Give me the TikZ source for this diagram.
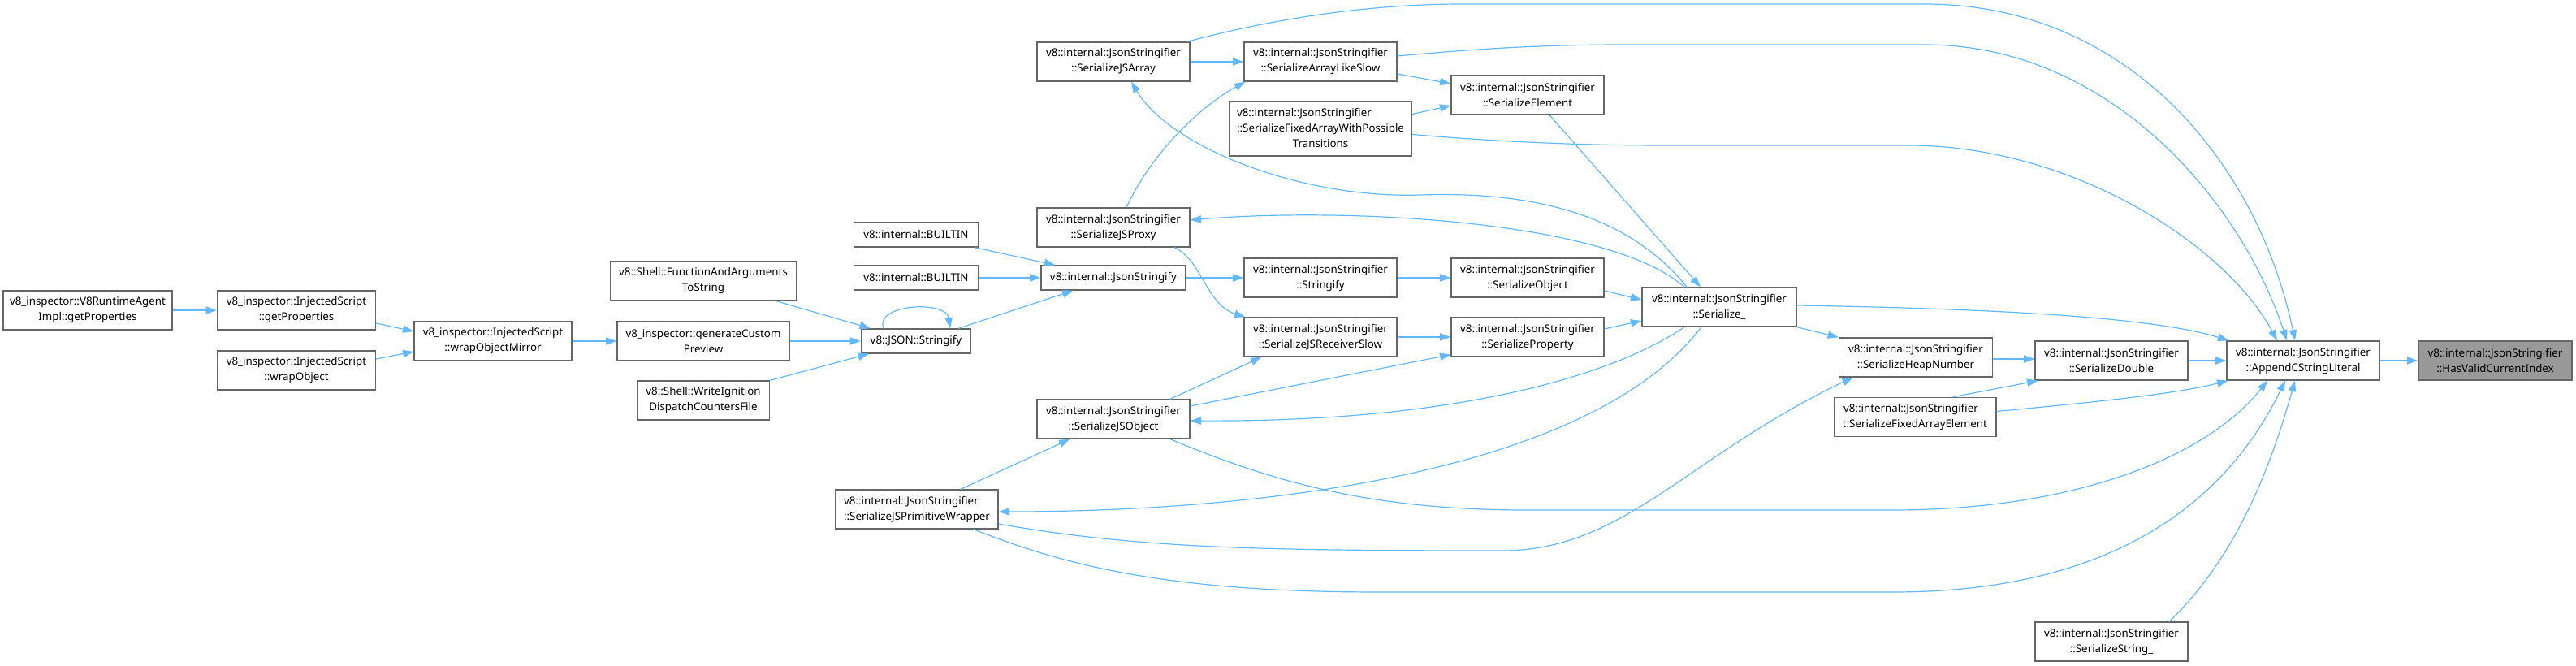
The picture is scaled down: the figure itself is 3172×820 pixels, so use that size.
\documentclass[tikz,border=0pt]{standalone}
\usepackage{fontspec}
\setmainfont{Noto Sans}
\usetikzlibrary{arrows.meta,calc}
\definecolor{edgeblue}{HTML}{63B8FF}
\definecolor{boxgray}{HTML}{666666}
\definecolor{rootfill}{HTML}{999999}
\tikzset{
  fn/.style={draw=boxgray, line width=1pt, fill=white, inner sep=0pt, align=center,
    font=\fontsize{10}{14.25}\selectfont, minimum height=36pt, minimum width=141pt},
  fnl/.style={fn, align=left},
  onel/.style={fn, minimum height=22.5pt},
  root/.style={fn, fill=rootfill},
  e/.style={draw=edgeblue, line width=0.9pt, -{Triangle[length=10pt,width=7pt]}},
}
\begin{document}
\begin{tikzpicture}[x=0.75pt, y=-0.75pt]
\useasboundingbox (0,0) rectangle (3172,820);
% nodes
\node[fn, minimum width=156pt] (rai) at (108,382) {v8\_inspector::V8RuntimeAgent\\Impl::getProperties};
\node[fn, minimum width=146.25pt] (isgp) at (365,382) {v8\_inspector::InjectedScript\\::getProperties};
\node[fn, minimum width=146.25pt] (iswo) at (365,456) {v8\_inspector::InjectedScript\\::wrapObject};
\node[fn, minimum width=145.5pt] (wom) at (607,420) {v8\_inspector::InjectedScript\\::wrapObjectMirror};
\node[fn, minimum width=171.75pt] (faat) at (866,346) {v8::Shell::FunctionAndArguments\\ToString};
\node[fn, minimum width=159pt] (gcp) at (866,420) {v8\_inspector::generateCustom\\Preview};
\node[fn, minimum width=122.25pt] (wid) at (866,493) {v8::Shell::WriteIgnition\\DispatchCountersFile};
\node[onel, minimum width=114.75pt] (b1) at (1128,289) {v8::internal::BUILTIN};
\node[onel, minimum width=114.75pt] (b2) at (1128,342) {v8::internal::BUILTIN};
\node[onel, minimum width=101.25pt] (jsons) at (1128,420) {v8::JSON::Stringify};
\node[fnl, minimum width=150pt] (jspw) at (1129,627) {v8::internal::JsonStringifier\\::SerializeJSPrimitiveWrapper};
\node[onel, minimum width=133.5pt] (jsonsfy) at (1371,342) {v8::internal::JsonStringify};
\node[fn] (jsarr) at (1371,76) {v8::internal::JsonStringifier\\::SerializeJSArray};
\node[fn] (jsproxy) at (1371,280) {v8::internal::JsonStringifier\\::SerializeJSProxy};
\node[fn] (jsobj) at (1371,516) {v8::internal::JsonStringifier\\::SerializeJSObject};
\node[fn] (als) at (1626,76) {v8::internal::JsonStringifier\\::SerializeArrayLikeSlow};
\node[fn, minimum width=168.75pt, minimum height=50.25pt] (sfawpt) at (1626,158.5) {\begin{tabular}{@{}l@{}}v8::internal::JsonStringifier\\::SerializeFixedArrayWithPossible\\\multicolumn{1}{@{}c@{}}{Transitions}\end{tabular}};
\node[fn] (strfy) at (1626,342) {v8::internal::JsonStringifier\\::Stringify};
\node[fn] (jsrs) at (1626,415) {v8::internal::JsonStringifier\\::SerializeJSReceiverSlow};
\node[fn] (elem) at (1881,117) {v8::internal::JsonStringifier\\::SerializeElement};
\node[fn] (sobj) at (1881,342) {v8::internal::JsonStringifier\\::SerializeObject};
\node[fn] (sprop) at (1881,415) {v8::internal::JsonStringifier\\::SerializeProperty};
\node[fn, minimum width=142.5pt] (ser) at (2117,378) {v8::internal::JsonStringifier\\::Serialize\_};
\node[fn, minimum width=141.75pt] (heap) at (2359,440) {v8::internal::JsonStringifier\\::SerializeHeapNumber};
\node[fnl, minimum width=149.25pt] (sfae) at (2358.5,513.5) {v8::internal::JsonStringifier\\::SerializeFixedArrayElement};
\node[fn] (dbl) at (2600,444) {v8::internal::JsonStringifier\\::SerializeDouble};
\node[fn] (str) at (2600,790) {v8::internal::JsonStringifier\\::SerializeString\_};
\node[fn] (app) at (2836,444) {v8::internal::JsonStringifier\\::AppendCStringLiteral};
\node[root, minimum width=141.75pt] (hvci) at (3072.5,444) {v8::internal::JsonStringifier\\::HasValidCurrentIndex};
% edges
\draw[e] (rai.east) -- (isgp.west);
\draw[e] ($(isgp.east)+(0,16)$) -- ($(wom.west)+(0,-12)$);
\draw[e] ($(iswo.east)+(0,-14)$) -- ($(wom.west)+(0,13)$);
\draw[e] (wom.east) -- (gcp.west);
\draw[e] (gcp.east) -- (jsons.west);
\draw[e] ($(faat.south)+(90,0)$) -- ($(jsons.north west)+(12,0)$);
\draw[e] (wid.north east) -- ($(jsons.south west)+(10,0)$);
\draw[e] ($(jsons.north)+(-40,0)$) .. controls +(-12,-30) and +(-5,-35) .. ($(jsons.north)+(42,0)$);
\draw[e] ($(jsons.north east)+(-16,0)$) -- ($(jsonsfy.south west)+(40,0)$);
\draw[e] ($(b1.south east)+(-5,0)$) -- ($(jsonsfy.north west)+(18,0)$);
\draw[e] (b2.east) -- (jsonsfy.west);
\draw[e] (jsonsfy.east) -- (strfy.west);
\draw[e] (strfy.east) -- (sobj.west);
\draw[e] ($(sobj.east)+(0,16)$) -- ($(ser.west)+(0,-9)$);
\draw[e] ($(sprop.east)+(0,-10)$) -- ($(ser.west)+(0,17)$);
\draw[e] (jsrs.east) -- (sprop.west);
\draw[e] ($(jsproxy.south)+(75,0)$) .. controls (1480,320) and (1485,375) .. ($(jsrs.north west)+(2,0)$);
\draw[e] ($(jsobj.north)+(70,0)$) -- ($(jsrs.south west)+(22,0)$);
\draw[e] ($(jsobj.east)+(0,-16)$) -- ($(sprop.south west)+(0,-3)$);
\draw[e] ($(jspw.north)+(54,0)$) -- ($(jsobj.south west)+(41,0)$);
\draw[e] (jsarr.east) -- (als.west);
\draw[e] ($(als.east)+(0,15)$) -- ($(elem.west)+(0,-14)$);
\draw[e] ($(sfawpt.east)+(0,-18)$) -- ($(elem.west)+(0,13)$);
\draw[e] ($(jsproxy.north)+(16,0)$) .. controls (1420,185) and (1480,130) .. ($(als.south west)+(2,0)$);
\draw[e] ($(elem.south)+(27,0)$) -- ($(ser.north)+(-23,0)$);
\draw[e] ($(ser.north)+(-40,0)$) .. controls (2010,270) and (1900,235) .. (1750,240) .. controls (1600,245) and (1440,180) .. ($(jsarr.south)+(22,0)$);
\draw[e] ($(ser.north)+(-43,0)$) .. controls (1980,270) and (1650,255) .. ($(jsproxy.east)+(0,-9)$);
\draw[e] ($(ser.south)+(-43,0)$) .. controls (1990,460) and (1800,520) .. ($(jsobj.east)+(0,2)$);
\draw[e] ($(ser.south)+(-22,0)$) .. controls (1960,580) and (1560,630) .. ($(jspw.east)+(0,3)$);
\draw[e] (ser.south east) -- (heap.north west);
\draw[e] ($(ser.east)+(0,-2)$) .. controls (2450,380) and (2650,390) .. ($(app.north west)+(3,0)$);
\draw[e] ($(heap.east)+(0,2)$) -- ($(dbl.west)+(0,-2)$);
\draw[e] ($(sfae.north)+(46,0)$) -- ($(dbl.south west)+(4,0)$);
\draw[e] (dbl.east) -- (app.west);
\draw[e] (app.east) -- (hvci.west);
\draw[e] ($(sfae.east)+(0,-7)$) .. controls (2580,495) and (2680,485) .. ($(app.south west)+(2,0)$);
\draw[e] ($(jspw.east)+(0,18)$) .. controls (1400,675) and (1550,678) .. (1850,678) .. controls (2000,678) and (2080,560) .. ($(heap.south west)+(18,0)$);
\draw[e] ($(jspw.south)+(70,0)$) .. controls (1320,700) and (1450,729) .. (1700,729) -- (2330,729) .. controls (2600,729) and (2740,620) .. ($(app.south)+(-22,0)$);
\draw[e] ($(jsobj.south)+(70,0)$) .. controls (1560,590) and (1680,628) .. (1880,628) -- (2330,628) .. controls (2560,628) and (2720,560) .. ($(app.south)+(-44,0)$);
\draw[e] ($(str.north)+(71,0)$) .. controls (2760,680) and (2800,560) .. ($(app.south)+(-10,0)$);
\draw[e] ($(jsarr.north east)+(-4,0)$) .. controls (1560,25) and (1680,5) .. (1800,5) -- (2370,5) .. controls (2620,5) and (2780,200) .. ($(app.north)+(-10,0)$);
\draw[e] ($(als.east)+(0,-7)$) .. controls (1820,60) and (1900,55) .. (2000,55) -- (2370,55) .. controls (2600,55) and (2760,250) .. ($(app.north)+(-20,0)$);
\draw[e] ($(sfawpt.east)+(0,7)$) .. controls (1850,175) and (1950,179) .. (2050,179) -- (2350,179) .. controls (2550,179) and (2740,300) .. ($(app.north)+(-32,0)$);
\end{tikzpicture}
\end{document}
